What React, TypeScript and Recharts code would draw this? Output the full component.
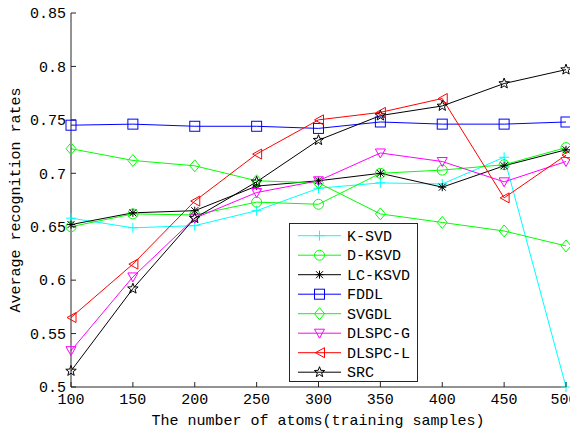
import { LineChart, Line, XAxis, YAxis, Legend } from "recharts";

const atoms = [100, 150, 200, 250, 300, 350, 400, 450, 500];
const yTicks = [0.5, 0.55, 0.6, 0.65, 0.7, 0.75, 0.8, 0.85];

const ksvd = [0.658, 0.649, 0.651, 0.665, 0.686, 0.691, 0.69, 0.715, 0.5];
const dksvd = [0.65, 0.662, 0.661, 0.673, 0.671, 0.7, 0.703, 0.708, 0.724];
const lcksvd = [0.652, 0.663, 0.665, 0.688, 0.693, 0.7, 0.687, 0.707, 0.722];
const fddl = [0.745, 0.746, 0.744, 0.744, 0.742, 0.748, 0.746, 0.746, 0.748];
const svgdl = [0.723, 0.712, 0.707, 0.693, 0.691, 0.662, 0.654, 0.646, 0.632];
const dlspcG = [0.534, 0.603, 0.658, 0.682, 0.693, 0.719, 0.711, 0.692, 0.711];
const dlspcL = [0.565, 0.615, 0.674, 0.718, 0.75, 0.757, 0.77, 0.677, 0.717];
const src = [0.515, 0.592, 0.658, 0.692, 0.731, 0.754, 0.763, 0.784, 0.797];

const series = [
  { key: "ksvd", name: "K-SVD", color: "#00ffff", marker: "plus", values: ksvd },
  { key: "dksvd", name: "D-KSVD", color: "#00ff00", marker: "circle", values: dksvd },
  { key: "lcksvd", name: "LC-KSVD", color: "#000000", marker: "asterisk", values: lcksvd },
  { key: "fddl", name: "FDDL", color: "#0000ff", marker: "square", values: fddl },
  { key: "svgdl", name: "SVGDL", color: "#00ff00", marker: "diamond", values: svgdl },
  { key: "dlspcG", name: "DLSPC-G", color: "#ff00ff", marker: "down", values: dlspcG },
  { key: "dlspcL", name: "DLSPC-L", color: "#ff0000", marker: "left", values: dlspcL },
  { key: "src", name: "SRC", color: "#000000", marker: "star", values: src },
];

const data = atoms.map((a, i) => {
  const row: Record<string, number> = { atoms: a };
  series.forEach((s) => {
    row[s.key] = s.values[i];
  });
  return row;
});

const FONT = "'Liberation Mono', monospace";
const AXIS = "#262626";

function Marker({ type, cx, cy, color }: { type: string; cx: number; cy: number; color: string }) {
  const p = { stroke: color, strokeWidth: 1, fill: "none" };
  const r = 5;
  switch (type) {
    case "plus":
      return <path d={`M${cx - r},${cy}H${cx + r}M${cx},${cy - r}V${cy + r}`} {...p} />;
    case "circle":
      return <circle cx={cx} cy={cy} r={r} {...p} />;
    case "asterisk": {
      const d = 3.5;
      return (
        <path
          d={`M${cx - 4},${cy}H${cx + 4}M${cx},${cy - 4}V${cy + 4}M${cx - d},${cy - d}L${cx + d},${cy + d}M${cx - d},${cy + d}L${cx + d},${cy - d}`}
          {...p}
        />
      );
    }
    case "square":
      return <rect x={cx - r} y={cy - r} width={2 * r} height={2 * r} {...p} />;
    case "diamond":
      return <path d={`M${cx},${cy - 6}L${cx + 5},${cy}L${cx},${cy + 6}L${cx - 5},${cy}Z`} {...p} />;
    case "down":
      return <path d={`M${cx - r},${cy - 4}L${cx + r},${cy - 4}L${cx},${cy + 5}Z`} {...p} />;
    case "left":
      return <path d={`M${cx - 4},${cy}L${cx + 5},${cy - r}L${cx + 5},${cy + r}Z`} {...p} />;
    case "star": {
      const pts: string[] = [];
      for (let k = 0; k < 10; k++) {
        const rad = k % 2 === 0 ? 5.5 : 2.3;
        const ang = -Math.PI / 2 + (k * Math.PI) / 5;
        pts.push(`${cx + rad * Math.cos(ang)},${cy + rad * Math.sin(ang)}`);
      }
      return <polygon points={pts.join(" ")} {...p} />;
    }
    default:
      return null;
  }
}

const LeftTick = (props: any) => {
  const { x, y, payload } = props;
  return (
    <g>
      <line x1={x} y1={y} x2={x + 5} y2={y} stroke={AXIS} />
      <text x={x - 5} y={y} dy="0.35em" textAnchor="end" fontFamily={FONT} fontSize={15} fill="#000">
        {String(payload.value)}
      </text>
    </g>
  );
};

const BottomTick = (props: any) => {
  const { x, y, payload } = props;
  // the last label is pushed against the right edge of the picture
  const last = payload.value === atoms[atoms.length - 1];
  return (
    <g>
      <line x1={x} y1={y} x2={x} y2={y - 5} stroke={AXIS} />
      <text
        x={last ? x + 11.5 : x}
        y={y + 17}
        textAnchor={last ? "end" : "middle"}
        fontFamily={FONT}
        fontSize={15}
        fill="#000"
      >
        {String(payload.value)}
      </text>
    </g>
  );
};

const TopTick = (props: any) => {
  const { x, y } = props;
  return <line x1={x} y1={y} x2={x} y2={y + 5} stroke={AXIS} />;
};

const RightTick = (props: any) => {
  const { x, y } = props;
  return <line x1={x} y1={y} x2={x - 5} y2={y} stroke={AXIS} />;
};

const LegendBox = () => (
  <svg width={130} height={160}>
    <rect x={0.5} y={0.5} width={128} height={158} fill="#fff" stroke={AXIS} />
    {series.map((s, i) => {
      const cy = 12.7 + i * 19.5;
      return (
        <g key={s.key}>
          <line x1={9} x2={52} y1={cy} y2={cy} stroke={s.color} />
          <Marker type={s.marker} cx={30.5} cy={cy} color={s.color} />
          <text x={58} y={cy} dy="0.35em" fontFamily={FONT} fontSize={15} fill="#000">
            {s.name}
          </text>
        </g>
      );
    })}
  </svg>
);

export default function App() {
  return (
    <div style={{ position: "relative", left: -8, top: -8, width: 578, height: 433 }}>
      <LineChart
        width={578}
        height={433}
        data={data}
        margin={{ top: 13, right: 12, left: 8, bottom: 0 }}
      >
        <XAxis
          dataKey="atoms"
          type="number"
          domain={[100, 500]}
          ticks={atoms}
          interval={0}
          height={46}
          tickSize={0}
          tickMargin={0}
          tickLine={false}
          tick={<BottomTick />}
          stroke={AXIS}
          label={{
            value: "The number of atoms(training samples)",
            content: () => (
              <text x={318} y={425} textAnchor="middle" fontFamily={FONT} fontSize={15} fill="#000">
                The number of atoms(training samples)
              </text>
            ),
          }}
        />
        <XAxis
          xAxisId="top"
          orientation="top"
          dataKey="atoms"
          type="number"
          domain={[100, 500]}
          ticks={atoms}
          interval={0}
          height={0}
          tickSize={0}
          tickMargin={0}
          tickLine={false}
          tick={<TopTick />}
          stroke={AXIS}
        />
        <YAxis
          type="number"
          domain={[0.5, 0.85]}
          ticks={yTicks}
          interval={0}
          width={63}
          tickSize={0}
          tickMargin={0}
          tickLine={false}
          tick={<LeftTick />}
          stroke={AXIS}
          label={{
            value: "Average recognition rates",
            content: () => (
              <text
                x={19.5}
                y={200}
                transform="rotate(-90 19.5 200)"
                textAnchor="middle"
                fontFamily={FONT}
                fontSize={15}
                fill="#000"
              >
                Average recognition rates
              </text>
            ),
          }}
        />
        <YAxis
          yAxisId="right"
          orientation="right"
          type="number"
          domain={[0.5, 0.85]}
          ticks={yTicks}
          interval={0}
          width={0}
          tickSize={0}
          tickMargin={0}
          tickLine={false}
          tick={<RightTick />}
          stroke={AXIS}
        />
        <Legend
          layout="vertical"
          align="center"
          verticalAlign="middle"
          content={() => <LegendBox />}
          wrapperStyle={{ left: 289, top: 223, width: 130, height: 160 }}
        />
        {series.map((s) => (
          <Line
            key={s.key}
            dataKey={s.key}
            name={s.name}
            stroke={s.color}
            strokeWidth={1}
            type="linear"
            isAnimationActive={false}
            dot={(props: any) => (
              <g key={`${s.key}-${props.index}`}>
                <Marker type={s.marker} cx={props.cx} cy={props.cy} color={s.color} />
              </g>
            )}
            activeDot={false}
          />
        ))}
      </LineChart>
    </div>
  );
}
